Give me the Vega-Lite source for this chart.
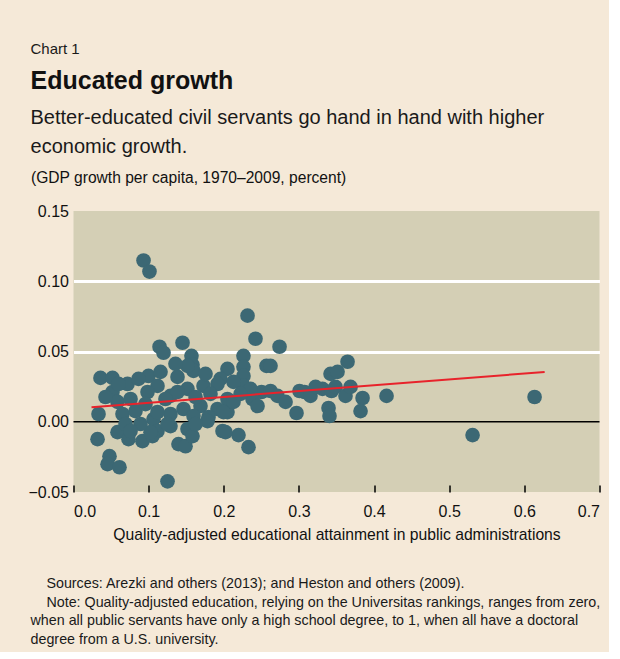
{
  "$schema": "https://vega.github.io/schema/vega-lite/v6.json",
  "background": "#f5e9d8",
  "padding": {"left": 27.5, "top": 41, "right": 8, "bottom": 5},
  "title": {"text": "Chart 1", "anchor": "start", "dx": 2.5, "font": "Liberation Sans", "fontSize": 15, "fontWeight": "normal", "color": "#1a1a1a", "offset": 12},
  "datasets": {
    "points": [
      {"x":0.0932,"y":0.1148},{"x":0.1011,"y":0.1069},{"x":0.2316,"y":0.0755},{"x":0.2422,"y":0.0591},{"x":0.2742,"y":0.0534},
      {"x":0.1145,"y":0.0534},{"x":0.1198,"y":0.0491},{"x":0.1451,"y":0.0562},{"x":0.1570,"y":0.0469},{"x":0.1584,"y":0.0405},
      {"x":0.2262,"y":0.0469},{"x":0.2262,"y":0.0391},{"x":0.2262,"y":0.0326},{"x":0.2262,"y":0.0255},{"x":0.2049,"y":0.0376},
      {"x":0.2568,"y":0.0398},{"x":0.2622,"y":0.0398},{"x":0.0359,"y":0.0312},{"x":0.0519,"y":0.0312},{"x":0.0719,"y":0.0269},
      {"x":0.0998,"y":0.0326},{"x":0.1158,"y":0.0355},{"x":0.1384,"y":0.0319},{"x":0.1597,"y":0.0362},{"x":0.1956,"y":0.0305},
      {"x":0.1916,"y":0.0269},{"x":0.2129,"y":0.0284},{"x":0.1730,"y":0.0255},{"x":0.1517,"y":0.0234},{"x":0.1291,"y":0.0184},
      {"x":0.1118,"y":0.0255},{"x":0.2049,"y":0.0162},{"x":0.1916,"y":0.0091},{"x":0.1690,"y":0.0112},{"x":0.1464,"y":0.0091},
      {"x":0.1291,"y":0.0055},{"x":0.1597,"y":0.0041},{"x":0.1797,"y":0.0034},{"x":0.2049,"y":0.0069},{"x":0.1065,"y":0.0019},
      {"x":0.1291,"y":-0.0031},{"x":0.1118,"y":-0.0066},{"x":0.1517,"y":-0.0052},{"x":0.1983,"y":-0.0066},{"x":0.2196,"y":-0.0095},
      {"x":0.2329,"y":-0.0181},{"x":0.0333,"y":0.0055},{"x":0.0320,"y":-0.0124},{"x":0.0479,"y":-0.0245},{"x":0.0453,"y":-0.0302},
      {"x":0.0612,"y":-0.0324},{"x":0.1251,"y":-0.0424},{"x":0.0586,"y":-0.0074},{"x":0.0732,"y":-0.0124},{"x":0.0918,"y":-0.0138},
      {"x":0.1051,"y":-0.0102},{"x":0.1397,"y":-0.0159},{"x":0.1491,"y":-0.0174},{"x":0.1584,"y":-0.0102},{"x":0.1251,"y":-0.0016},
      {"x":0.0519,"y":0.0212},{"x":0.0586,"y":0.0141},{"x":0.0985,"y":0.0212},{"x":0.1118,"y":0.0069},{"x":0.1025,"y":-0.0074},
      {"x":0.1384,"y":0.0212},{"x":0.1517,"y":0.0398},{"x":0.2502,"y":0.0212},{"x":0.2622,"y":0.0219},{"x":0.2715,"y":0.0184},
      {"x":0.2382,"y":0.0162},{"x":0.2449,"y":0.0112},{"x":0.2356,"y":0.0234},{"x":0.2822,"y":0.0141},{"x":0.2968,"y":0.0062},
      {"x":0.3008,"y":0.0219},{"x":0.3075,"y":0.0212},{"x":0.3154,"y":0.0184},{"x":0.3314,"y":0.0234},{"x":0.3434,"y":0.0219},
      {"x":0.3487,"y":0.0248},{"x":0.3421,"y":0.0341},{"x":0.3514,"y":0.0355},{"x":0.3647,"y":0.0427},{"x":0.3620,"y":0.0184},
      {"x":0.3847,"y":0.0169},{"x":0.3820,"y":0.0076},{"x":0.3394,"y":0.0098},{"x":0.3407,"y":0.0041},{"x":0.4166,"y":0.0184},
      {"x":0.5311,"y":-0.0095},{"x":0.6136,"y":0.0176},{"x":0.2023,"y":-0.0074},{"x":0.1783,"y":0.0005},{"x":0.1996,"y":0.0069},
      {"x":0.2129,"y":0.0141},{"x":0.0759,"y":0.0162},{"x":0.0652,"y":0.0055},{"x":0.0825,"y":0.0076},{"x":0.0892,"y":-0.0016},
      {"x":0.0692,"y":-0.0016},{"x":0.0426,"y":0.0176},{"x":0.0865,"y":0.0305},{"x":0.1224,"y":0.0162},{"x":0.1624,"y":0.0176},
      {"x":0.1823,"y":0.0198},{"x":0.0599,"y":0.0269},{"x":0.0759,"y":-0.0066},{"x":0.1757,"y":0.0341},{"x":0.1357,"y":0.0412},
      {"x":0.2223,"y":0.0198},{"x":0.3221,"y":0.0248},{"x":0.3687,"y":0.0248},{"x":0.1624,"y":-0.0016},{"x":0.0958,"y":0.0126}
    ],
    "fit": [{"x":0.024,"y":0.0104},{"x":0.627,"y":0.0354}],
    "zero": [{"y":0}]
  },
  "vconcat": [
    {
      "title": {
        "text": [
          "\u200b\u00a0\u00a0\u00a0\u00a0Sources: Arezki and others (2013); and Heston and others (2009).",
          "\u200b\u00a0\u00a0\u00a0\u00a0Note: Quality-adjusted education, relying on the Universitas rankings, ranges from zero,",
          "when all public servants have only a high school degree, to 1, when all have a doctoral",
          "degree from a U.S. university."
        ],
        "orient": "bottom", "anchor": "start", "dx": 2.5, "font": "Liberation Sans", "fontSize": 14.3, "fontWeight": "normal",
        "lineHeight": 18.5, "offset": 35.5, "color": "#1a1a1a"
      },
      "vconcat": [
        {
          "title": {
            "text": "Educated growth",
            "subtitle": ["Better-educated civil servants go hand in hand with higher", "economic growth."],
            "anchor": "start", "dx": 2.5, "font": "Liberation Sans", "fontSize": 25, "fontWeight": "bold", "color": "#111111",
            "subtitleFont": "Liberation Sans", "subtitleFontSize": 20, "subtitleLineHeight": 29, "subtitleColor": "#1a1a1a",
            "subtitlePadding": 14, "offset": 14
          },
          "width": 526,
          "height": 281,
          "layer": [
            {
              "data": {"name": "zero"},
              "mark": {"type": "rule", "color": "#000000", "strokeWidth": 1.5},
              "encoding": {"y": {"field": "y", "type": "quantitative"}}
            },
            {
              "data": {"name": "points"},
              "mark": {"type": "circle", "size": 215, "opacity": 1, "color": "#3c6874"},
              "encoding": {
                "x": {"field": "x", "type": "quantitative", "scale": {"domain": [0, 0.7], "nice": false},
                  "axis": {"values": [0,0.1,0.2,0.3,0.4,0.5,0.6,0.7], "format": ".1f", "grid": false, "domain": false,
                    "ticks": true, "tickSize": -7, "tickColor": "#000000", "tickWidth": 1.5,
                    "labelFont": "Liberation Sans", "labelFontSize": 16, "labelColor": "#111111", "labelPadding": 18,
                    "title": "Quality-adjusted educational attainment in public administrations",
                    "titleFont": "Liberation Sans", "titleFontSize": 15.7, "titleFontWeight": "normal", "titleColor": "#111111", "titlePadding": 8}},
                "y": {"field": "y", "type": "quantitative", "scale": {"domain": [-0.05, 0.15], "nice": false},
                  "axis": {"values": [-0.05, 0, 0.05, 0.1, 0.15], "format": ".2f", "domain": false, "ticks": false,
                    "grid": true, "gridColor": {"condition": {"test": "datum.value > 0.01 && datum.value < 0.14", "value": "#ffffff"}, "value": "transparent"},
                    "gridWidth": 3,
                    "labelFont": "Liberation Sans", "labelFontSize": 16, "labelColor": "#111111", "labelPadding": 5,
                    "title": "(GDP growth per capita, 1970\u20132009, percent)", "titleAngle": 0, "titleAlign": "left",
                    "titleBaseline": "alphabetic", "titleX": -43, "titleY": -28.5,
                    "titleFont": "Liberation Sans", "titleFontSize": 15.6, "titleFontWeight": "normal", "titleColor": "#111111"}}
              }
            },
            {
              "data": {"name": "fit"},
              "mark": {"type": "line", "color": "#e8232b", "strokeWidth": 2},
              "encoding": {"x": {"field": "x", "type": "quantitative"}, "y": {"field": "y", "type": "quantitative"}}
            }
          ]
        }
      ]
    }
  ],
  "config": {
    "view": {"fill": "#d4cfb5", "stroke": null},
    "concat": {"spacing": 0}
  }
}
